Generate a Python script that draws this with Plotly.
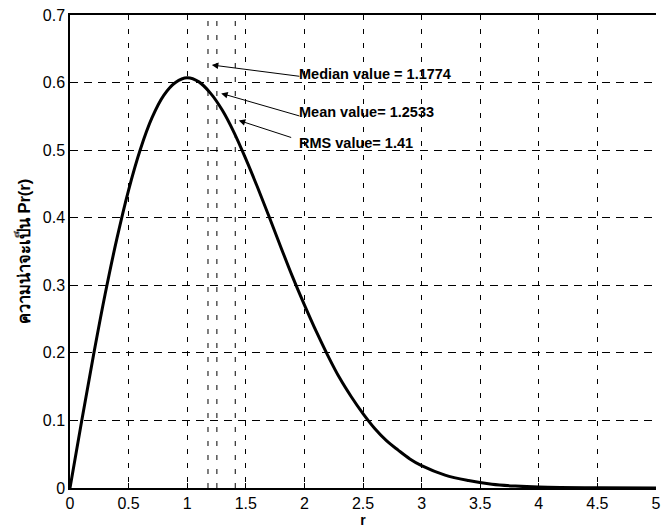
import plotly.graph_objects as go

# Curve values (Rayleigh-shaped pdf)
r_vals = [0, 0.1, 0.2, 0.3, 0.4, 0.5, 0.6, 0.7, 0.8, 0.9, 1.0, 1.1, 1.2, 1.3, 1.4,
          1.5, 1.6, 1.7, 1.8, 1.9, 2.0, 2.1, 2.2, 2.3, 2.4, 2.5, 2.6, 2.7, 2.8,
          2.9, 3.0, 3.2, 3.4, 3.6, 3.8, 4.0, 4.5, 5.0]
p_vals = [0, 0.0995, 0.196, 0.287, 0.369, 0.441, 0.501, 0.548, 0.581, 0.600,
          0.607, 0.601, 0.584, 0.559, 0.526, 0.487, 0.445, 0.401, 0.356, 0.312,
          0.271, 0.232, 0.196, 0.163, 0.135, 0.110, 0.088, 0.070, 0.056, 0.043,
          0.033, 0.019, 0.011, 0.0055, 0.0028, 0.0013, 0.0002, 0.0]

stat_names = ["Median value = 1.1774", "Mean value= 1.2533", "RMS value= 1.41"]
stat_values = [1.1774, 1.2533, 1.41]

x_ticks = [0, 0.5, 1, 1.5, 2, 2.5, 3, 3.5, 4, 4.5, 5]
x_tick_labels = ["0", "0.5", "1", "1.5", "2", "2.5", "3", "3.5", "4", "4.5", "5"]
y_ticks = [0, 0.1, 0.2, 0.3, 0.4, 0.5, 0.6, 0.7]
y_tick_labels = ["0", "0.1", "0.2", "0.3", "0.4", "0.5", "0.6", "0.7"]

FONT = "Liberation Sans, Arial, sans-serif"

fig = go.Figure()
fig.add_trace(go.Scatter(x=r_vals, y=p_vals, mode="lines",
                         line=dict(color="black", width=3, shape="spline"),
                         showlegend=False, hoverinfo="skip"))

# extra dashed vertical lines at the statistics
for v in stat_values:
    fig.add_shape(type="line", xref="x", yref="y", x0=v, x1=v, y0=0, y1=0.7,
                  line=dict(color="black", width=1, dash="5px,9px"), layer="below")

# arrows (head on curve side, tail near the text)
arrow_heads = [(1.21, 0.626), (1.29, 0.584), (1.44, 0.544)]
arrow_tails = [(1.97, 0.609), (1.97, 0.550), (1.90, 0.518)]
text_pos = [(1.94, 0.612), (1.94, 0.557), (1.94, 0.511)]
for name, (hx, hy), (tx, ty), (px, py) in zip(stat_names, arrow_heads, arrow_tails, text_pos):
    fig.add_annotation(x=hx, y=hy, ax=tx, ay=ty, xref="x", yref="y", axref="x", ayref="y",
                       text="", showarrow=True, arrowhead=2, arrowsize=1.3,
                       arrowwidth=1, arrowcolor="black")
    fig.add_annotation(x=px, y=py, xref="x", yref="y", text="<b>" + name + "</b>",
                       showarrow=False, xanchor="left", yanchor="middle",
                       font=dict(family=FONT, size=14.5, color="black"))

fig.update_layout(
    width=662, height=531,
    margin=dict(l=70, r=6, t=15, b=43),
    paper_bgcolor="white", plot_bgcolor="white",
    font=dict(family=FONT, size=16, color="black"),
    showlegend=False,
)
fig.update_xaxes(
    range=[0, 5], tickvals=x_ticks, ticktext=x_tick_labels,
    ticklabeloverflow="allow",
    showgrid=True, gridcolor="black", gridwidth=1, griddash="5px,9px",
    showline=True, linecolor="black", linewidth=1.5, mirror="ticks",
    ticks="inside", ticklen=5, tickcolor="black", zeroline=False,
    automargin=False,
    title=dict(text="<b>r</b>", font=dict(size=14), standoff=2),
)
fig.update_yaxes(
    range=[0, 0.7], tickvals=y_ticks, ticktext=y_tick_labels,
    showgrid=True, gridcolor="black", gridwidth=1, griddash="8px,6px",
    showline=True, linecolor="black", linewidth=1.5, mirror=False,
    ticks="inside", ticklen=5, tickcolor="black", zeroline=False,
    automargin=False,
    title=dict(text="<b>ความน่าจะเป็น Pr(r)</b>", font=dict(size=16.5), standoff=8),
)

fig.write_html("out.html", config={"displayModeBar": False},
               post_script="document.body.style.margin='0';")
